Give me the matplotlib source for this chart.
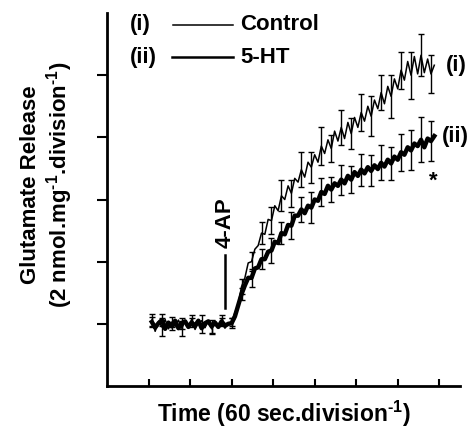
import numpy as np
import matplotlib.pyplot as plt

plt.rcParams['font.family'] = ['Liberation Sans', 'DejaVu Sans']
plt.rcParams['font.weight'] = 'bold'
plt.rcParams['mathtext.fontset'] = 'custom'
plt.rcParams['mathtext.rm'] = 'Liberation Sans:bold'
plt.rcParams['mathtext.bf'] = 'Liberation Sans:bold'
plt.rcParams['mathtext.default'] = 'bf'

# time in divisions (60 s each), sampled every 0.08 division
time = np.round(1.08 + 0.08 * np.arange(86), 2)

# glutamate release (divisions of 2 nmol/mg)
control = [1.06, 0.88, 1.04, 0.95, 1.07, 0.92, 1.03, 0.96, 1.06, 0.93,
           1.04, 0.97, 1.07, 0.91, 1.02, 1.05, 0.94, 1.04, 0.92, 1.03,
           0.97, 1.06, 0.93, 1.01, 1.03,
           1.18, 1.32, 1.60, 1.74, 1.98, 2.00, 2.20, 2.26, 2.46, 2.44,
           2.68, 2.66, 2.90, 2.82, 3.06, 3.00, 3.22, 3.10, 3.34, 3.28,
           3.48, 3.36, 3.60, 3.52, 3.72, 3.60, 3.86, 3.74, 3.96, 3.82,
           4.10, 3.94, 4.16, 3.98, 4.24, 4.06, 4.32, 4.16, 4.40, 4.26,
           4.50, 4.34, 4.60, 4.46, 4.72, 4.54, 4.82, 4.66, 4.94, 4.78,
           5.08, 4.92, 5.22, 5.00, 5.30, 5.02, 5.32, 5.04, 5.26, 5.02,
           5.16]
serotonin = [1.03, 0.94, 1.01, 1.06, 0.92, 1.02, 0.96, 1.05, 0.93, 1.01,
             1.04, 0.95, 1.02, 0.97, 1.05, 0.93, 1.01, 1.04, 0.96, 1.02,
             0.95, 1.04, 0.97, 1.00, 1.01,
             1.12, 1.30, 1.48, 1.62, 1.74, 1.74, 1.89, 1.91, 2.04, 2.04,
             2.16, 2.18, 2.32, 2.30, 2.46, 2.44, 2.59, 2.58, 2.74, 2.74,
             2.84, 2.78, 2.90, 2.87, 3.00, 2.98, 3.12, 3.09, 3.22, 3.16,
             3.26, 3.22, 3.32, 3.26, 3.38, 3.32, 3.44, 3.38, 3.48, 3.42,
             3.52, 3.46, 3.55, 3.49, 3.59, 3.53, 3.64, 3.58, 3.69, 3.64,
             3.76, 3.72, 3.84, 3.79, 3.90, 3.86, 3.96, 3.84, 3.98, 3.94,
             4.02]

# s.e.m. shown on every third sample
control_err = [0.10, 0.14, 0.08, 0.12, 0.07, 0.10, 0.08, 0.09, 0.06,
               0.12, 0.15, 0.18, 0.22, 0.25, 0.22, 0.28, 0.25, 0.30, 0.22,
               0.28, 0.25, 0.30, 0.32, 0.28, 0.35, 0.30, 0.38, 0.34, 0.30]
serotonin_err = [0.08, 0.10, 0.06, 0.09, 0.07, 0.08, 0.10, 0.06, 0.08,
                 0.10, 0.14, 0.16, 0.20, 0.18, 0.22, 0.20, 0.25, 0.22, 0.20,
                 0.24, 0.22, 0.26, 0.25, 0.28, 0.26, 0.30, 0.32, 0.36, 0.32]

ap_time = 2.84  # 4-AP addition

fig = plt.figure(figsize=(4.68, 4.29), dpi=100)
ax = fig.add_axes([0.2286, 0.1002, 0.7544, 0.8695])

ax.plot(time, control, color='black', lw=1.1)
ax.errorbar(time[::3], control[::3], yerr=control_err, fmt='none',
            ecolor='black', elinewidth=1.0, capsize=2, capthick=1.0)
ax.plot(time, serotonin, color='black', lw=3.2)
ax.errorbar(time[::3], serotonin[::3], yerr=serotonin_err, fmt='none',
            ecolor='black', elinewidth=1.0, capsize=2, capthick=1.0)

# 4-AP marker
ax.plot([ap_time, ap_time], [1.25, 2.1], color='black', lw=1.8)
ax.text(ap_time, 2.22, '4-AP', rotation=90, ha='center', va='bottom',
        fontsize=16, fontweight='bold')

# curve labels
ax.text(time[-1] + 0.28, control[-1], '(i)', ha='left', va='center',
        fontsize=16, fontweight='bold')
ax.text(time[-1] + 0.18, serotonin[-1], '(ii)', ha='left', va='center',
        fontsize=16, fontweight='bold')
ax.text(time[-1] - 0.02, serotonin[-1] - 0.72, '*', ha='center',
        va='center', fontsize=16, fontweight='bold')

# legend drawn by hand
ax.text(0.065, 0.968, '(i)', transform=ax.transAxes, ha='left', va='center',
        fontsize=16, fontweight='bold')
ax.plot([0.187, 0.357], [0.968, 0.968], transform=ax.transAxes,
        color='black', lw=1.1)
ax.text(0.377, 0.968, 'Control', transform=ax.transAxes, ha='left',
        va='center', fontsize=16, fontweight='bold')
ax.text(0.065, 0.882, '(ii)', transform=ax.transAxes, ha='left', va='center',
        fontsize=16, fontweight='bold')
ax.plot([0.184, 0.357], [0.882, 0.882], transform=ax.transAxes,
        color='black', lw=1.8)
ax.text(0.377, 0.882, '5-HT', transform=ax.transAxes, ha='left',
        va='center', fontsize=16, fontweight='bold')

ax.set_xlim(0, 8.5)
ax.set_ylim(0, 6)
ax.set_xticks(range(1, 9))
ax.set_yticks(range(1, 6))
ax.set_xticklabels([])
ax.set_yticklabels([])
ax.tick_params(axis='x', direction='in', length=5, width=1.5)
ax.tick_params(axis='y', direction='out', length=7, width=1.5)
for side in ['top', 'right']:
    ax.spines[side].set_visible(False)
for side in ['left', 'bottom']:
    ax.spines[side].set_linewidth(2)

ax.set_xlabel(r'Time (60 sec.division$^{\text{-}1}$)', fontsize=16.5,
              fontweight='bold', labelpad=6)
ax.set_ylabel('Glutamate Release\n'
              r'(2 nmol.mg$^{\text{-}1}$.division$^{\text{-}1}$)',
              fontsize=16, fontweight='bold', linespacing=1.15)
ax.yaxis.set_label_coords(-0.09, 0.54)

fig.savefig('out.png', dpi=100)
